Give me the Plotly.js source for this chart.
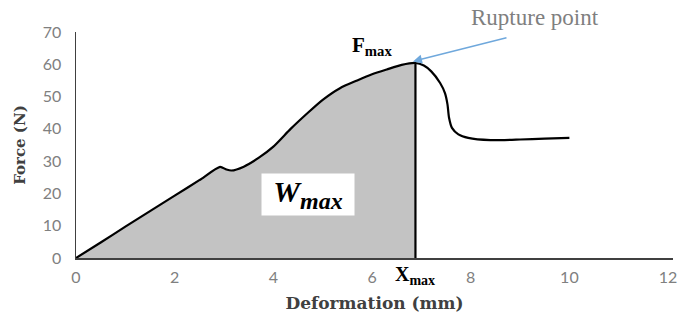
<!DOCTYPE html>
<html>
<head>
<meta charset="utf-8">
<script src="https://cdn.plot.ly/plotly-3.0.1.min.js"></script>
<style>html,body{margin:0;padding:0;background:#fff;}#chart{width:680px;height:315px;}</style>
</head>
<body>
<div id="chart"></div>
<script>
// Deformation (mm) and force (N)
const deformation = [0, 0.5, 1, 1.5, 2, 2.5, 2.92, 3.05, 3.15, 3.4, 3.7, 4.0, 4.35, 4.7, 5.0, 5.35, 5.7, 6.0, 6.3, 6.6, 6.88, 7.05, 7.2, 7.38, 7.48, 7.53, 7.56, 7.62, 7.75, 7.95, 8.4, 9.0, 9.5, 10.0];
const force = [0, 4.8, 9.7, 14.5, 19.3, 24.1, 28.2, 27.4, 27.1, 28.3, 31.0, 34.5, 40.0, 45.0, 49.0, 52.6, 55.0, 56.9, 58.4, 59.8, 60.4, 59.6, 57.8, 54.2, 51.0, 47.5, 43.5, 40.3, 38.3, 37.2, 36.5, 36.7, 37.0, 37.2];
const xMax = [6.88];
const fMax = [60.4];
const xTicks = [0, 2, 4, 6, 8, 10, 12];
const yTicks = [0, 10, 20, 30, 40, 50, 60, 70];

const fillX = deformation.filter(v => v <= xMax[0]);
const fillY = force.slice(0, fillX.length);

const serif = '"DejaVu Serif", "Liberation Serif", serif';
const serif2 = '"Liberation Serif", "DejaVu Serif", serif';
const tickFont = {family: 'Lato, "Open Sans", sans-serif', size: 16, color: '#808080'};

const traces = [
  {x: fillX, y: fillY, type: 'scatter', mode: 'lines', fill: 'tozeroy',
   fillcolor: '#c3c3c3', line: {width: 0, shape: 'spline', smoothing: 0.6}, hoverinfo: 'skip'},
  {x: [xMax[0], xMax[0]], y: [0, fMax[0]], type: 'scatter', mode: 'lines',
   line: {color: '#000', width: 2.2}},
  {x: deformation, y: force, type: 'scatter', mode: 'lines',
   line: {color: '#000', width: 2.2, shape: 'spline', smoothing: 0.6}}
];

const layout = {
  width: 680, height: 315,
  margin: {l: 76, r: 7, t: 32, b: 57},
  paper_bgcolor: '#fff', plot_bgcolor: '#fff',
  showlegend: false,
  font: {family: 'Lato, sans-serif', size: 16, color: '#808080'},
  xaxis: {
    range: [0, 12.1], tickvals: xTicks, ticktext: xTicks.map(String),
    showgrid: false, zeroline: false, showline: true, linecolor: '#404040', linewidth: 1.5,
    ticks: '', ticklabelstandoff: 4,
    tickfont: tickFont,
    title: {text: '<b>Deformation (mm)</b>', font: {family: serif, size: 17, color: '#404040'}, standoff: 12},
    automargin: false
  },
  yaxis: {
    range: [0, 70], tickvals: yTicks, ticktext: yTicks.map(String),
    showgrid: false, zeroline: false, showline: true, linecolor: '#404040', linewidth: 1.5,
    ticks: '', ticklabelstandoff: 10,
    tickfont: tickFont,
    title: {text: '<b>Force (N)</b>', font: {family: serif, size: 15, color: '#404040'}, standoff: 13},
    automargin: false
  },
  annotations: [
    {xref: 'x', yref: 'y', x: 6.0, y: 65.8, text: '<b>F<sub>max</sub></b>', showarrow: false,
     font: {family: serif2, size: 21, color: '#000'}},
    {xref: 'paper', yref: 'paper', x: 0.769, y: 1.066, xanchor: 'center', yanchor: 'middle',
     text: 'Rupture point', showarrow: false,
     font: {family: serif2, size: 23, color: '#7f7f7f'}},
    {xref: 'x', yref: 'y', x: 6.83, y: 60.9, text: '', showarrow: true, ax: 95, ay: -24,
     arrowcolor: '#6fa8dc', arrowwidth: 1.5, arrowhead: 2, arrowsize: 1.2},
    {xref: 'x', yref: 'paper', x: 6.88, y: 0, yshift: -32, text: '<b>X<sub>max</sub></b>', showarrow: false,
     font: {family: serif2, size: 20, color: '#000'}},
    {xref: 'x', yref: 'y', x: 4.70, y: 19.7,
     text: '<b><i>W</i></b><sub><b><i><span style="font-size:24px">max</span></i></b></sub>', showarrow: false,
     bgcolor: '#fff', width: 92, height: 41, borderpad: 0,
     font: {family: serif2, size: 30, color: '#000'}}
  ]
};

Plotly.newPlot('chart', traces, layout, {displayModeBar: false, staticPlot: true});
</script>
</body>
</html>
